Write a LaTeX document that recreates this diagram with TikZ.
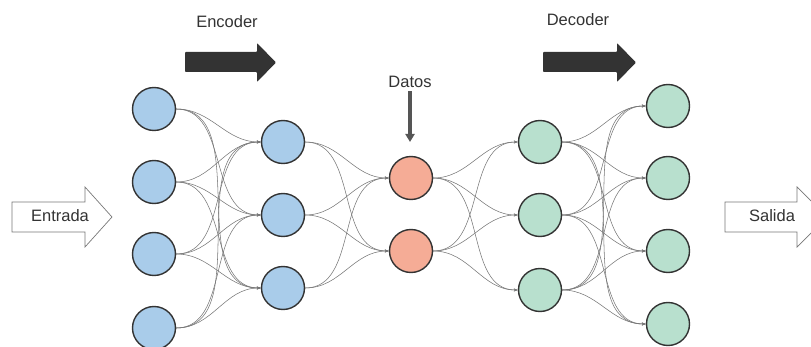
\documentclass[tikz,border=0pt]{standalone}
\usepackage{fontspec}
\setmainfont{Liberation Sans}
\usetikzlibrary{arrows.meta}
\definecolor{encBlue}{HTML}{A9CCEA}
\definecolor{latentRed}{HTML}{F5AC96}
\definecolor{decGreen}{HTML}{B8E0CE}
\definecolor{nodeBorder}{HTML}{333333}
\definecolor{edgeGray}{HTML}{777777}
\definecolor{pointGray}{HTML}{555555}
\definecolor{arrowDark}{HTML}{333333}
\definecolor{textDark}{HTML}{333333}

\begin{document}
\begin{tikzpicture}
[x=1pt,y=-1pt,
  lineDecorate/.style={-{Stealth[length=4pt,width=3pt]},draw=edgeGray,line width=0.55pt,out=0,in=180},%
  nodeDecorate/.style={shape=circle,minimum size=43pt,inner sep=0pt,draw=nodeBorder,line width=1.4pt},%
  bigArrow/.style={fill=arrowDark,rounded corners=0.8pt},%
  flowArrow/.style={draw=edgeGray,fill=white,line width=0.7pt},%
  labelText/.style={font=\fontsize{16.5}{19}\selectfont,text=textDark}]
\useasboundingbox (0,0) rectangle (811,347);
%% nodes or neurons
\foreach \nodename/\x/\y/\col in {
  i1/154/109/encBlue, i2/154/182/encBlue, i3/154/254/encBlue, i4/154/328/encBlue,
  h1/283/142/encBlue, h2/283/215/encBlue, h3/283/288/encBlue,
  z1/411/178/latentRed, z2/411/251/latentRed,
  d1/540/142/decGreen, d2/540/215/decGreen, d3/540/290/decGreen,
  o1/668/106/decGreen, o2/668/178/decGreen, o3/668/251/decGreen, o4/668/324/decGreen}
{
  \node (\nodename) at (\x,\y) [nodeDecorate,fill=\col] {};
}
%% edges or weights
\path
\foreach \startnode in {i1,i2,i3,i4}{\foreach \endnode in {h1,h2,h3}{
  (\startnode.east) edge[lineDecorate] (\endnode.west)}}
\foreach \startnode in {h1,h2,h3}{\foreach \endnode in {z1,z2}{
  (\startnode.east) edge[lineDecorate] (\endnode.west)}}
\foreach \startnode in {z1,z2}{\foreach \endnode in {d1,d2,d3}{
  (\startnode.east) edge[lineDecorate] (\endnode.west)}}
\foreach \startnode in {d1,d2,d3}{\foreach \endnode in {o1,o2,o3,o4}{
  (\startnode.east) edge[lineDecorate] (\endnode.west)}};
%% encoder / decoder arrows
\fill[bigArrow] (185,52) -- (257,52) -- (257,43) -- (276,62.5) -- (257,82) -- (257,72) -- (185,72) -- cycle;
\fill[bigArrow] (543,52) -- (617,52) -- (617,43) -- (636,62.5) -- (617,82) -- (617,72) -- (543,72) -- cycle;
\node (encLbl) at (227,22) [labelText] {Encoder};
\node (decLbl) at (578,20) [labelText] {Decoder};
%% input / output arrows
\draw[flowArrow] (12,202) -- (85,202) -- (85,187) -- (112,217) -- (85,247) -- (85,232) -- (12,232) -- cycle;
\draw[flowArrow] (725,202) -- (797,202) -- (797,187) -- (827,217) -- (797,247) -- (797,232) -- (725,232) -- cycle;
\node (inLbl) at (60,216) [labelText] {Entrada};
\node (outLbl) at (772,216) [labelText] {Salida};
%% latent label
\node (datosLbl) at (410,82) [labelText] {Datos};
\coordinate (datosTip) at (410,142);
\draw[-{Triangle[length=8pt,width=9pt]},line width=3.4pt,draw=pointGray] (datosLbl.south) -- (datosTip);
\end{tikzpicture}
\end{document}
